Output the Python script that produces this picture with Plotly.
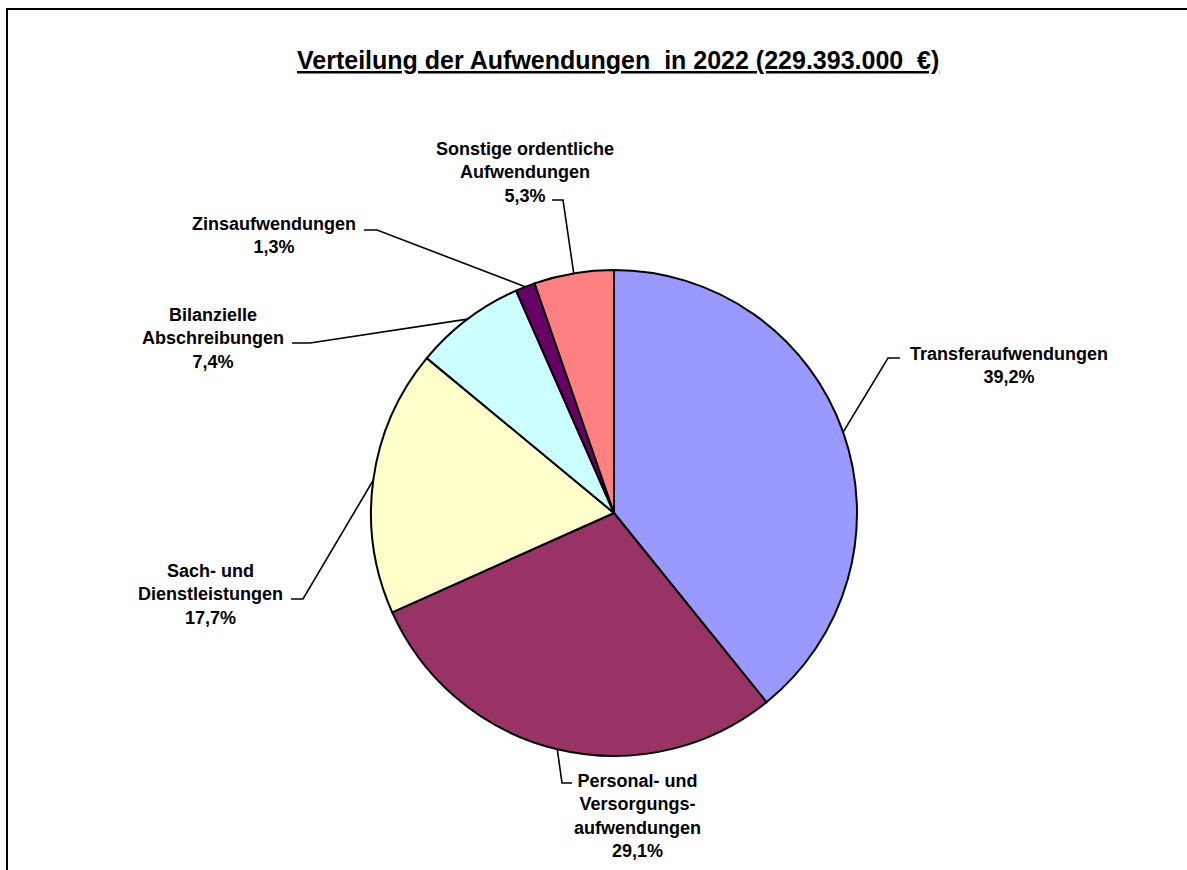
import math
import plotly.graph_objects as go

# ---- data ----
categories = [
    "Transferaufwendungen",
    "Personal- und Versorgungsaufwendungen",
    "Sach- und Dienstleistungen",
    "Bilanzielle Abschreibungen",
    "Zinsaufwendungen",
    "Sonstige ordentliche Aufwendungen",
]
label_lines = [
    "Transferaufwendungen",
    "Personal- und<br>Versorgungs-<br>aufwendungen",
    "Sach- und<br>Dienstleistungen",
    "Bilanzielle<br>Abschreibungen",
    "Zinsaufwendungen",
    "Sonstige ordentliche<br>Aufwendungen",
]
shares = [39.2, 29.1, 17.7, 7.4, 1.3, 5.3]
colors = ["#9999FF", "#993366", "#FFFFCC", "#CCFFFF", "#660066", "#FF8080"]
title_text = "Verteilung der Aufwendungen\u00a0 in 2022 (229.393.000\u00a0 €)"

# ---- layout (pixels) ----
W, H = 1187, 870
CX, CY, R = 614, 513, 243
# label center, elbow point, end of horizontal stub (pixels)
label_pos = [(1009, 365), (637, 816), (210, 594), (213, 338), (274, 235), (525, 172)]
elbows = [(888, 358), (562, 783), (303, 599), (310, 343), (377, 230), (563, 200)]
stubs = [(900, 358), (572, 783), (291, 599), (292, 343), (364, 230), (552, 200)]
FONT = "Liberation Sans, Arial, sans-serif"


def px(x):
    return x / W


def py(y):
    return 1 - y / H


fig = go.Figure(
    go.Pie(
        labels=categories,
        values=shares,
        sort=False,
        direction="clockwise",
        rotation=0,
        marker=dict(colors=colors, line=dict(color="black", width=2)),
        textinfo="none",
        showlegend=False,
        domain=dict(x=[px(CX - R), px(CX + R)], y=[py(CY + R), py(CY - R)]),
    )
)

total = sum(shares)
cum = 0.0
shapes = []
annotations = []
for i, v in enumerate(shares):
    mid = (cum + v / 2) / total * 2 * math.pi
    cum += v
    ex = CX + R * math.sin(mid)
    ey = CY - R * math.cos(mid)
    (bx, by), (sx, sy) = elbows[i], stubs[i]
    shapes.append(dict(
        type="path", xref="paper", yref="paper",
        path=f"M {px(ex)},{py(ey)} L {px(bx)},{py(by)} L {px(sx)},{py(sy)}",
        line=dict(color="black", width=1.6),
    ))
    pct = f"{v:.1f}".replace(".", ",") + "%"
    lx, ly = label_pos[i]
    annotations.append(dict(
        xref="paper", yref="paper", x=px(lx), y=py(ly),
        text=f"<b>{label_lines[i]}<br>{pct}</b>",
        showarrow=False, xanchor="center", yanchor="middle", align="center",
        font=dict(family=FONT, size=18, color="black"),
    ))

# outer frame (top and left edges visible)
shapes.append(dict(
    type="path", xref="paper", yref="paper",
    path=f"M {px(7)},-0.05 L {px(7)},{py(9)} L 1.05,{py(9)}",
    line=dict(color="black", width=2),
))

annotations.append(dict(
    xref="paper", yref="paper", x=px(618), y=py(60),
    text=f"<b><u>{title_text}</u></b>",
    showarrow=False, xanchor="center", yanchor="middle",
    font=dict(family=FONT, size=25, color="black"),
))

fig.update_layout(
    width=W, height=H,
    margin=dict(l=0, r=0, t=0, b=0),
    paper_bgcolor="white", plot_bgcolor="white",
    shapes=shapes, annotations=annotations,
)

fig.write_html(
    "out.html",
    config={"displayModeBar": False},
    post_script="document.body.style.margin='0';document.body.style.overflow='hidden';",
)
